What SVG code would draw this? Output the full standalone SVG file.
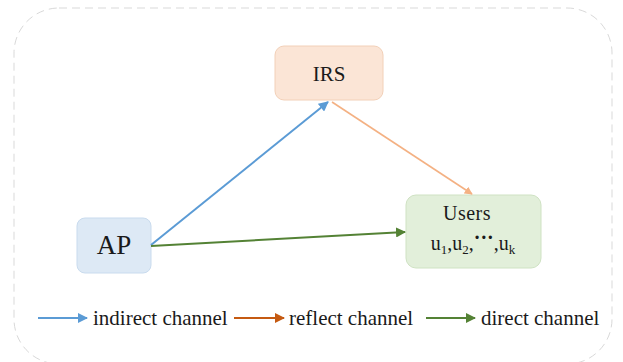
<svg xmlns="http://www.w3.org/2000/svg" width="623" height="362" viewBox="0 0 623 362">
<style>
.t{fill:#1a1a1a}
.node{stroke-width:1}
</style>
<defs>
<marker id="mb" viewBox="0 0 10 10" refX="9" refY="5" markerWidth="5" markerHeight="5" orient="auto"><path d="M0,0L10,5L0,10z" fill="#5b9bd5"/></marker>
<marker id="mo" viewBox="0 0 10 10" refX="9" refY="5" markerWidth="5" markerHeight="5" orient="auto"><path d="M0,0L10,5L0,10z" fill="#f4b183"/></marker>
<marker id="mg" viewBox="0 0 10 10" refX="9" refY="5" markerWidth="5" markerHeight="5" orient="auto"><path d="M0,0L10,5L0,10z" fill="#548235"/></marker>
<marker id="md" viewBox="0 0 10 10" refX="9" refY="5" markerWidth="5" markerHeight="5" orient="auto"><path d="M0,0L10,5L0,10z" fill="#c55a11"/></marker>
</defs>
<rect x="14" y="8" width="598" height="356" rx="45" fill="#fff" stroke="#d9d9d9" stroke-width="1" stroke-dasharray="8,5"/>
<g font-family="'Liberation Serif', 'DejaVu Serif', serif">
<g id="irs"><rect class="node" x="275" y="46" width="108" height="54" rx="9" fill="#fbe5d6" stroke="#f2d0b8"/><text class="t" x="329" y="81" font-size="21" text-anchor="middle">IRS</text></g>
<g id="ap"><rect class="node" x="77" y="218" width="74" height="55" rx="8" fill="#dde9f5" stroke="#c9dbee"/><text class="t" x="114" y="254" font-size="27" text-anchor="middle">AP</text></g>
<g id="users"><rect class="node" x="406" y="195" width="135" height="73" rx="10" fill="#e2efda" stroke="#cfe2c3"/><text class="t" x="467" y="220" font-size="20" text-anchor="middle" letter-spacing="0.5">Users</text><text class="t" x="473" y="250" font-size="20" text-anchor="middle">u<tspan font-size="13" dy="4">1</tspan><tspan dy="-4">,u</tspan><tspan font-size="13" dy="4">2</tspan><tspan dy="-4">,</tspan><tspan font-weight="bold" dy="-6">···</tspan><tspan dy="6">,u</tspan><tspan font-size="13" dy="4">k</tspan></text></g>
<g id="connectors" fill="none" stroke-width="2">
<line x1="151" y1="245" x2="328" y2="102" stroke="#5b9bd5" marker-end="url(#mb)"/>
<line x1="332" y1="102" x2="472" y2="194" stroke="#f4b183" stroke-width="1.6" marker-end="url(#mo)"/>
<line x1="151" y1="246" x2="405" y2="232" stroke="#548235" marker-end="url(#mg)"/>
</g>
<g id="legend" font-size="21">
<line x1="38" y1="318" x2="87" y2="318" stroke="#5b9bd5" stroke-width="2" marker-end="url(#mb)"/>
<text class="t" x="93" y="325">indirect channel</text>
<line x1="234" y1="318" x2="284" y2="318" stroke="#c55a11" stroke-width="2" marker-end="url(#md)"/>
<text class="t" x="289" y="325">reflect channel</text>
<line x1="426" y1="318" x2="475" y2="318" stroke="#548235" stroke-width="2" marker-end="url(#mg)"/>
<text class="t" x="481" y="325">direct channel</text>
</g>
</g>
</svg>
